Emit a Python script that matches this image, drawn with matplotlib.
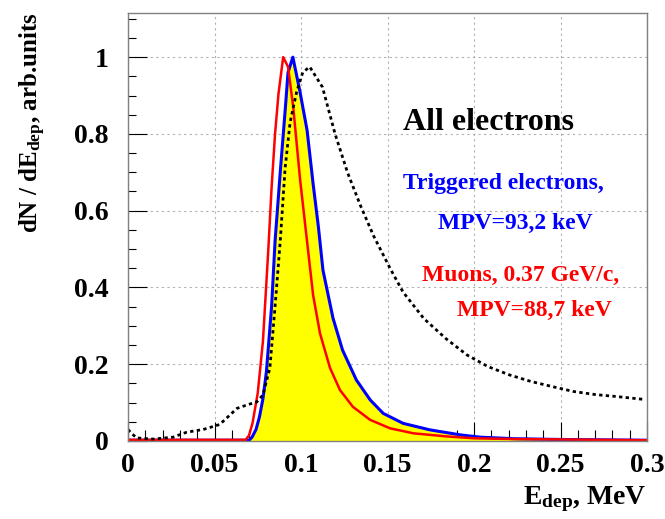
import matplotlib
matplotlib.use("Agg")
import matplotlib.pyplot as plt
from matplotlib.ticker import MultipleLocator, FixedLocator

# ---- data ----
mu_E = [0, 0.068, 0.070, 0.072, 0.075, 0.078, 0.081, 0.083, 0.085, 0.087, 0.0897, 0.0925,
        0.0955, 0.0995, 0.1035, 0.107, 0.111, 0.1168, 0.1225, 0.130, 0.140, 0.1515, 0.165,
        0.184, 0.200, 0.225, 0.25, 0.275, 0.30]
mu_v = [0.003, 0.003, 0.015, 0.047, 0.125, 0.26, 0.49, 0.66, 0.80, 0.905, 1.0, 0.975,
        0.87, 0.68, 0.52, 0.38, 0.28, 0.19, 0.133, 0.089, 0.055, 0.033, 0.02,
        0.012, 0.007, 0.005, 0.004, 0.003, 0.002]

trig_E = [0, 0.070, 0.0717, 0.074, 0.076, 0.078, 0.080, 0.083, 0.085, 0.088, 0.091, 0.0925,
          0.0953, 0.0994, 0.1035, 0.107, 0.110, 0.1127, 0.1185, 0.124, 0.132, 0.140, 0.1475,
          0.159, 0.1745, 0.192, 0.2035, 0.223, 0.25, 0.275, 0.30]
trig_v = [0.002, 0.002, 0.01, 0.03, 0.063, 0.11, 0.18, 0.35, 0.52, 0.70, 0.87, 0.96,
          1.0, 0.91, 0.81, 0.67, 0.56, 0.445, 0.32, 0.237, 0.159, 0.107, 0.072,
          0.046, 0.029, 0.016, 0.010, 0.006, 0.004, 0.003, 0.002]

all_E = [0, 0.002, 0.005, 0.0145, 0.026, 0.034, 0.0435, 0.053, 0.059, 0.063, 0.0688, 0.0745,
         0.078, 0.082, 0.085, 0.088, 0.0908, 0.0937, 0.0975, 0.101, 0.105, 0.1124, 0.1197,
         0.127, 0.1345, 0.142, 0.1517, 0.159, 0.171, 0.1837, 0.196, 0.208, 0.2206, 0.233,
         0.245, 0.2575, 0.27, 0.282, 0.299]
all_v = [0.03, 0.02, 0.008, 0.005, 0.01, 0.023, 0.03, 0.043, 0.068, 0.085, 0.094, 0.102,
         0.12, 0.19, 0.35, 0.52, 0.71, 0.83, 0.91, 0.96, 0.975, 0.922, 0.80,
         0.698, 0.612, 0.534, 0.448, 0.388, 0.319, 0.267, 0.224, 0.194, 0.172, 0.155,
         0.142, 0.129, 0.121, 0.116, 0.108]

x_ticks = [0, 0.05, 0.1, 0.15, 0.2, 0.25, 0.3]
x_labels = ["0", "0.05", "0.1", "0.15", "0.2", "0.25", "0.3"]
y_ticks = [0, 0.2, 0.4, 0.6, 0.8, 1.0]
y_labels = ["0", "0.2", "0.4", "0.6", "0.8", "1"]

plt.rcParams['font.family'] = ['Liberation Serif', 'DejaVu Serif']
plt.rcParams['font.weight'] = 'bold'
plt.rcParams['mathtext.fontset'] = 'custom'
plt.rcParams['mathtext.rm'] = 'Liberation Serif:bold'
plt.rcParams['mathtext.it'] = 'Liberation Serif:bold:italic'
plt.rcParams['mathtext.bf'] = 'Liberation Serif:bold'

fig = plt.figure(figsize=(6.65, 5.19), dpi=100)
ax = fig.add_axes([128/665, 1-441/519, (647-128)/665, (441-13)/519])

ax.fill_between(trig_E, trig_v, 0, color='#ffff00', lw=0, zorder=2)
ax.plot(trig_E, trig_v, color='#0000ff', lw=2.2, zorder=4)
ax.plot(mu_E, mu_v, color='#ff0000', lw=1.8, zorder=5)
ax.plot(all_E, all_v, color='black', lw=2.0, ls=(0, (1.2, 1.2)), zorder=6)

ax.set_xlim(0, 0.3)
ax.set_ylim(0, 1.115)
ax.xaxis.set_major_locator(FixedLocator(x_ticks))
ax.set_xticklabels(x_labels)
ax.yaxis.set_major_locator(FixedLocator(y_ticks))
ax.set_yticklabels(y_labels)
ax.xaxis.set_minor_locator(MultipleLocator(0.01))
ax.yaxis.set_minor_locator(MultipleLocator(0.05))
ax.tick_params(axis='both', which='both', direction='in', labelsize=20, colors='black')
ax.tick_params(axis='x', which='major', length=14, width=0.8, pad=9)
ax.tick_params(axis='x', which='minor', length=8, width=0.8)
ax.tick_params(axis='y', which='major', length=14, width=0.8, pad=14)
ax.tick_params(axis='y', which='minor', length=6, width=0.8)
for lab in ax.get_xticklabels() + ax.get_yticklabels():
    lab.set_fontweight('bold')

ax.grid(True, which='major', color='#b0b0b0', ls=(0, (2, 3)), lw=0.8, zorder=1)
for s in ax.spines.values():
    s.set_color('#808080')
    s.set_linewidth(1.0)
    s.set_zorder(10)

ax.set_ylabel(r'dN / dE$_{\mathrm{dep}}$, arb.units', fontsize=18, fontweight='bold')
ax.yaxis.set_label_coords(-0.155, 1.0)
ax.yaxis.label.set_ha('right')
ax.set_xlabel(r'E$_{\mathrm{dep}}$, MeV', fontsize=20, fontweight='bold')
ax.xaxis.set_label_coords(1.0, -0.10)
ax.xaxis.label.set_ha('right')

ax.text(0.159, 0.83, 'All electrons', fontsize=23, fontweight='bold', color='black',
        ha='left', va='center', zorder=7)
ax.text(0.159, 0.672, 'Triggered electrons,', fontsize=17, fontweight='bold', color='#0000ff',
        ha='left', va='center', zorder=7)
ax.text(0.179, 0.568, 'MPV=93,2 keV', fontsize=17, fontweight='bold', color='#0000ff',
        ha='left', va='center', zorder=7)
ax.text(0.170, 0.432, 'Muons, 0.37 GeV/c,', fontsize=17, fontweight='bold', color='#ff0000',
        ha='left', va='center', zorder=7)
ax.text(0.190, 0.341, 'MPV=88,7 keV', fontsize=17, fontweight='bold', color='#ff0000',
        ha='left', va='center', zorder=7)

fig.savefig('out.png', dpi=100)
